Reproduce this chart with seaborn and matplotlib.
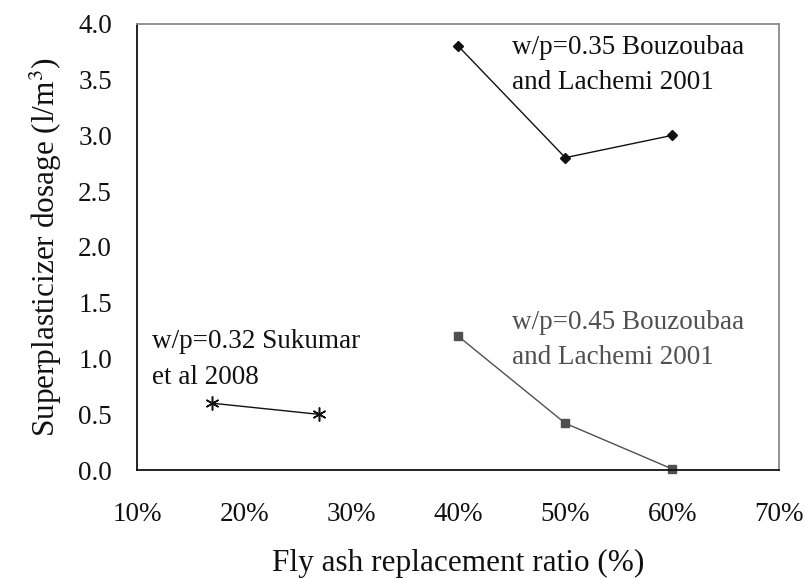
import matplotlib
matplotlib.use("Agg")
import matplotlib.pyplot as plt
import matplotlib.ticker as mticker
import numpy as np
import pandas as pd
import seaborn as sns

# Fly ash replacement ratio (fraction) and superplasticizer dosage (l/m3)
ratio_035 = [0.40, 0.50, 0.60]
dose_035 = [3.8, 2.8, 3.0]
ratio_045 = [0.40, 0.50, 0.60]
dose_045 = [1.2, 0.42, 0.01]
ratio_032 = [0.17, 0.27]
dose_032 = [0.6, 0.5]

label_035 = "w/p=0.35 Bouzoubaa\nand Lachemi 2001"
label_045 = "w/p=0.45 Bouzoubaa\nand Lachemi 2001"
label_032 = "w/p=0.32 Sukumar\net al 2008"

x_ticks = [0.1, 0.2, 0.3, 0.4, 0.5, 0.6, 0.7]
y_ticks = [0.0, 0.5, 1.0, 1.5, 2.0, 2.5, 3.0, 3.5, 4.0]

sns.set_theme(style="white")
plt.rcParams["font.family"] = ["Liberation Serif", "DejaVu Serif"]
plt.rcParams["mathtext.fontset"] = "stix"

fig = plt.figure(figsize=(8.06, 5.79), dpi=100)
ax = fig.add_axes([0.170, 0.188, 0.797, 0.771])

df = pd.concat([
    pd.DataFrame({"ratio": ratio_035, "dose": dose_035, "series": "0.35"}),
    pd.DataFrame({"ratio": ratio_045, "dose": dose_045, "series": "0.45"}),
    pd.DataFrame({"ratio": ratio_032, "dose": dose_032, "series": "0.32"}),
])

styles = {
    "0.35": dict(color="#111111", marker="D", ms=5, mew=1.0),
    "0.45": dict(color="#505050", marker="s", ms=6, mew=1.0),
    "0.32": dict(color="#111111", marker=(6, 2, 0), ms=10, mew=1.1),
}
for key, st in styles.items():
    sub = df[df["series"] == key]
    sns.lineplot(data=sub, x="ratio", y="dose", ax=ax, color=st["color"],
                 linewidth=1.0, marker=st["marker"], markersize=st["ms"],
                 markeredgecolor=st["color"], markerfacecolor=st["color"],
                 markeredgewidth=st["mew"], estimator=None, sort=False,
                 legend=False, clip_on=False)

ax.set_xlim(0.1, 0.7)
ax.set_ylim(0.0, 4.0)
ax.set_xticks(x_ticks)
ax.set_yticks(y_ticks)
ax.xaxis.set_major_formatter(mticker.FuncFormatter(lambda v, p: f"{v*100:.0f}%"))
ax.yaxis.set_major_formatter(mticker.FuncFormatter(lambda v, p: f"{v:.1f}"))
ax.tick_params(axis="x", direction="in", length=7, width=1.2, pad=23,
               labelsize=19.5, colors="#111111", top=False)
ax.tick_params(axis="y", direction="in", length=6, width=1.2, pad=18,
               labelsize=19.5, colors="#111111", right=False)

for side in ["left", "bottom"]:
    ax.spines[side].set_color("#111111")
    ax.spines[side].set_linewidth(1.3)
for side in ["top", "right"]:
    ax.spines[side].set_color("#8a8a8a")
    ax.spines[side].set_linewidth(1.3)

ax.set_xlabel("Fly ash replacement ratio (%)", fontsize=22.5, color="#111111",
              labelpad=16)
ax.set_ylabel("Superplasticizer dosage (l/m$^3$)", fontsize=22.5,
              color="#111111", labelpad=10)

ax.text(0.45, 3.63, label_035, fontsize=19.5, color="#111111",
        va="center", ha="left", linespacing=1.5)
ax.text(0.45, 1.165, label_045, fontsize=19.5, color="#505050",
        va="center", ha="left", linespacing=1.5)
ax.text(0.114, 0.99, label_032, fontsize=19.5, color="#111111",
        va="center", ha="left", linespacing=1.55)

fig.savefig("out.png", dpi=100)
